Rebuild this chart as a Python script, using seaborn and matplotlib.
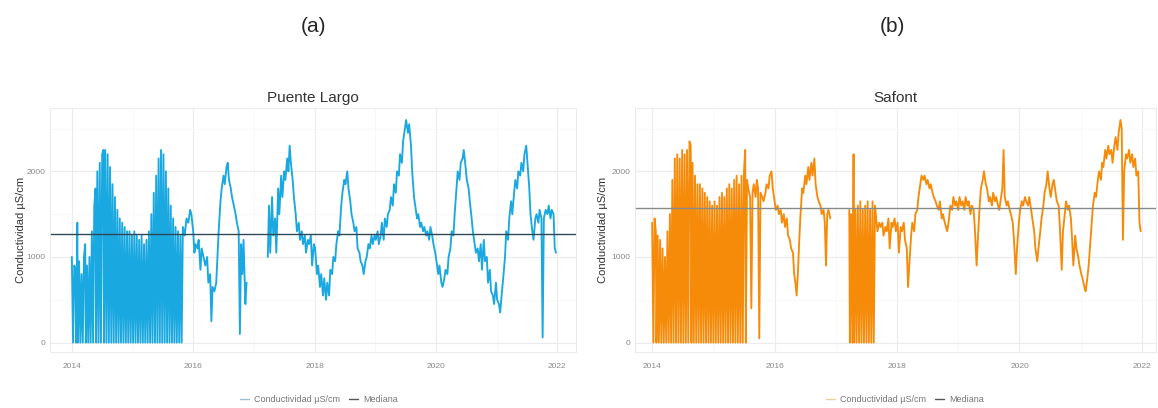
import numpy as np
import pandas as pd
import seaborn as sns
import matplotlib.pyplot as plt
from matplotlib.lines import Line2D
from matplotlib.ticker import FixedLocator

# ---- Puente Largo: año decimal y conductividad (µS/cm) ----
pl_anio = [
    2014.00, 2014.02, 2014.04, 2014.06, 2014.07, 2014.09, 2014.10, 2014.12, 2014.14, 2014.16,
    2014.18, 2014.20, 2014.22, 2014.23, 2014.25, 2014.27, 2014.29, 2014.31, 2014.33, 2014.35,
    2014.37, 2014.39, 2014.40, 2014.42, 2014.44, 2014.46, 2014.48, 2014.50, 2014.52, 2014.53,
    2014.55, 2014.57, 2014.59, 2014.61, 2014.63, 2014.65, 2014.67, 2014.69, 2014.71, 2014.73,
    2014.75, 2014.77, 2014.79, 2014.81, 2014.83, 2014.85, 2014.87, 2014.89, 2014.91, 2014.93,
    2014.95, 2014.97, 2014.99, 2015.01, 2015.03, 2015.05, 2015.07, 2015.09, 2015.11, 2015.13,
    2015.15, 2015.17, 2015.19, 2015.21, 2015.23, 2015.25, 2015.27, 2015.29, 2015.31, 2015.33,
    2015.35, 2015.37, 2015.39, 2015.41, 2015.43, 2015.45, 2015.47, 2015.49, 2015.51, 2015.53,
    2015.55, 2015.57, 2015.59, 2015.61, 2015.63, 2015.65, 2015.67, 2015.69, 2015.71, 2015.73,
    2015.75, 2015.77, 2015.79, 2015.81, 2015.83, 2015.86, 2015.89, 2015.92, 2015.95, 2015.97,
    2016.00, 2016.02, 2016.04, 2016.07, 2016.09, 2016.12, 2016.14, 2016.17, 2016.20, 2016.23,
    2016.25, 2016.28, 2016.30, 2016.32, 2016.35, 2016.38, 2016.40, 2016.42, 2016.45, 2016.47,
    2016.50, 2016.52, 2016.55, 2016.57, 2016.59, 2016.62, 2016.64, 2016.67, 2016.70, 2016.72,
    2016.75, 2016.77, 2016.79, 2016.81, 2016.83, 2016.86, 2016.88, 2017.23, 2017.25, 2017.27,
    2017.30, 2017.32, 2017.35, 2017.37, 2017.40, 2017.42, 2017.45, 2017.47, 2017.50, 2017.52,
    2017.55, 2017.57, 2017.59, 2017.61, 2017.64, 2017.66, 2017.69, 2017.71, 2017.74, 2017.76,
    2017.79, 2017.81, 2017.84, 2017.86, 2017.89, 2017.91, 2017.94, 2017.96, 2017.99, 2018.01,
    2018.04, 2018.06, 2018.09, 2018.11, 2018.14, 2018.16, 2018.19, 2018.21, 2018.24, 2018.26,
    2018.29, 2018.31, 2018.34, 2018.36, 2018.39, 2018.41, 2018.44, 2018.46, 2018.49, 2018.51,
    2018.54, 2018.56, 2018.59, 2018.61, 2018.64, 2018.66, 2018.69, 2018.71, 2018.74, 2018.76,
    2018.79, 2018.81, 2018.84, 2018.86, 2018.89, 2018.91, 2018.94, 2018.96, 2018.99, 2019.01,
    2019.04, 2019.06, 2019.09, 2019.11, 2019.14, 2019.16, 2019.19, 2019.21, 2019.24, 2019.26,
    2019.29, 2019.31, 2019.34, 2019.36, 2019.39, 2019.41, 2019.44, 2019.46, 2019.49, 2019.51,
    2019.54, 2019.56, 2019.59, 2019.61, 2019.64, 2019.66, 2019.69, 2019.71, 2019.74, 2019.76,
    2019.79, 2019.81, 2019.84, 2019.86, 2019.89, 2019.91, 2019.94, 2019.96, 2019.99, 2020.01,
    2020.04, 2020.06, 2020.09, 2020.11, 2020.14, 2020.16, 2020.19, 2020.21, 2020.24, 2020.26,
    2020.29, 2020.31, 2020.34, 2020.36, 2020.39, 2020.41, 2020.44, 2020.46, 2020.49, 2020.51,
    2020.54, 2020.56, 2020.59, 2020.61, 2020.64, 2020.66, 2020.69, 2020.71, 2020.74, 2020.76,
    2020.79, 2020.81, 2020.84, 2020.86, 2020.89, 2020.91, 2020.94, 2020.96, 2020.99, 2021.01,
    2021.04, 2021.06, 2021.09, 2021.11, 2021.14, 2021.16, 2021.19, 2021.21, 2021.24, 2021.26,
    2021.29, 2021.31, 2021.34, 2021.36, 2021.39, 2021.41, 2021.44, 2021.46, 2021.49, 2021.51,
    2021.54, 2021.56, 2021.59, 2021.61, 2021.64, 2021.66, 2021.69, 2021.71, 2021.74, 2021.76,
    2021.78, 2021.81, 2021.84, 2021.86, 2021.89, 2021.91, 2021.94, 2021.96, 2021.98,
]
pl_cond = [
    1000, 0, 900, 850, 0, 1400, 0, 950, 0, 800,
    0, 1000, 1150, 0, 900, 0, 1000, 0, 1300, 0,
    1600, 1800, 0, 2000, 0, 2100, 0, 2200, 2250, 0,
    2250, 0, 2200, 0, 2050, 0, 1850, 0, 1700, 0,
    1550, 0, 1450, 0, 1400, 0, 1350, 0, 1300, 0,
    1300, 0, 1250, 0, 1300, 0, 1250, 0, 1200, 0,
    1250, 0, 1150, 0, 1200, 0, 1300, 0, 1500, 0,
    1750, 0, 1950, 0, 2150, 0, 2250, 0, 2200, 0,
    2000, 0, 1800, 0, 1600, 0, 1450, 0, 1350, 0,
    1300, 0, 1250, 0, 1350, 1250, 1450, 1400, 1550, 1500,
    1300, 1050, 1150, 1100, 1200, 850, 1100, 1000, 900, 1000,
    700, 800, 250, 650, 600, 700, 1000, 1300, 1650, 1800,
    1950, 1850, 2050, 2100, 1900, 1800, 1700, 1600, 1500, 1400,
    1300, 100, 1150, 800, 1200, 450, 700, 1000, 1600, 1050,
    1700, 1250, 1450, 1050, 1800, 1500, 1950, 1700, 2000, 1900,
    2150, 2000, 2300, 2100, 1900, 1700, 1500, 1300, 1400, 1200,
    1300, 1150, 1250, 1050, 1200, 1150, 1250, 900, 1150, 1100,
    800, 900, 650, 800, 550, 750, 500, 700, 550, 850,
    800, 1000, 950, 1150, 1300, 1250, 1600, 1750, 1900, 1850,
    2000, 1800, 1650, 1500, 1400, 1300, 1350, 1100, 1050, 950,
    900, 800, 950, 1000, 1150, 1100, 1250, 1150, 1250, 1200,
    1300, 1150, 1250, 1400, 1200, 1450, 1350, 1500, 1550, 1700,
    1600, 1850, 1750, 2000, 1950, 2200, 2100, 2350, 2500, 2600,
    2450, 2550, 2300, 2000, 1700, 1600, 1450, 1500, 1350, 1400,
    1300, 1350, 1250, 1300, 1200, 1350, 1250, 1150, 1050, 950,
    800, 900, 700, 650, 750, 850, 800, 1000, 1100, 1300,
    1250, 1500, 1800, 2000, 1900, 2100, 2150, 2250, 2050, 1900,
    1800, 1650, 1450, 1300, 1150, 1050, 1100, 950, 1150, 850,
    1200, 950, 1000, 700, 850, 600, 550, 450, 700, 500,
    450, 350, 600, 750, 1000, 1300, 1200, 1450, 1650, 1500,
    1750, 1900, 1800, 2000, 1950, 2100, 2000, 2200, 2300, 2100,
    1800, 1500, 1300, 1200, 1450, 1500, 1400, 1550, 1450, 60,
    1450, 1550, 1500, 1600, 1450, 1550, 1500, 1100, 1050,
]

# ---- Safont ----
sf_anio = [
    2014.00, 2014.02, 2014.04, 2014.06, 2014.07, 2014.09, 2014.11, 2014.13, 2014.15, 2014.17,
    2014.19, 2014.21, 2014.23, 2014.25, 2014.27, 2014.29, 2014.31, 2014.33, 2014.35, 2014.37,
    2014.39, 2014.41, 2014.43, 2014.45, 2014.47, 2014.49, 2014.51, 2014.53, 2014.55, 2014.57,
    2014.59, 2014.61, 2014.63, 2014.64, 2014.66, 2014.68, 2014.70, 2014.72, 2014.74, 2014.76,
    2014.78, 2014.80, 2014.82, 2014.84, 2014.86, 2014.88, 2014.90, 2014.92, 2014.94, 2014.96,
    2014.98, 2015.00, 2015.02, 2015.04, 2015.06, 2015.08, 2015.10, 2015.12, 2015.14, 2015.16,
    2015.18, 2015.20, 2015.22, 2015.24, 2015.26, 2015.28, 2015.30, 2015.32, 2015.34, 2015.36,
    2015.38, 2015.40, 2015.42, 2015.44, 2015.46, 2015.48, 2015.50, 2015.52, 2015.53, 2015.55,
    2015.57, 2015.60, 2015.62, 2015.64, 2015.66, 2015.69, 2015.71, 2015.73, 2015.75, 2015.77,
    2015.80, 2015.82, 2015.85, 2015.87, 2015.90, 2015.92, 2015.95, 2015.97, 2016.00, 2016.02,
    2016.05, 2016.07, 2016.10, 2016.12, 2016.15, 2016.17, 2016.20, 2016.22, 2016.25, 2016.27,
    2016.30, 2016.32, 2016.34, 2016.36, 2016.38, 2016.40, 2016.42, 2016.45, 2016.47, 2016.50,
    2016.52, 2016.55, 2016.57, 2016.60, 2016.62, 2016.65, 2016.67, 2016.70, 2016.72, 2016.75,
    2016.77, 2016.80, 2016.82, 2016.84, 2016.86, 2016.88, 2016.91, 2017.22, 2017.23, 2017.25,
    2017.27, 2017.29, 2017.30, 2017.32, 2017.34, 2017.36, 2017.38, 2017.40, 2017.42, 2017.44,
    2017.46, 2017.48, 2017.50, 2017.52, 2017.54, 2017.56, 2017.58, 2017.60, 2017.62, 2017.64,
    2017.66, 2017.68, 2017.71, 2017.73, 2017.76, 2017.78, 2017.81, 2017.83, 2017.86, 2017.88,
    2017.91, 2017.93, 2017.96, 2017.98, 2018.01, 2018.03, 2018.06, 2018.08, 2018.11, 2018.13,
    2018.16, 2018.18, 2018.20, 2018.23, 2018.25, 2018.28, 2018.30, 2018.33, 2018.35, 2018.38,
    2018.40, 2018.43, 2018.45, 2018.48, 2018.50, 2018.53, 2018.55, 2018.58, 2018.60, 2018.63,
    2018.65, 2018.68, 2018.70, 2018.73, 2018.75, 2018.78, 2018.80, 2018.82, 2018.85, 2018.87,
    2018.90, 2018.92, 2018.95, 2018.97, 2019.00, 2019.02, 2019.05, 2019.07, 2019.10, 2019.12,
    2019.15, 2019.17, 2019.20, 2019.22, 2019.25, 2019.27, 2019.30, 2019.32, 2019.35, 2019.37,
    2019.40, 2019.42, 2019.45, 2019.47, 2019.50, 2019.52, 2019.55, 2019.57, 2019.60, 2019.62,
    2019.65, 2019.67, 2019.70, 2019.72, 2019.74, 2019.76, 2019.79, 2019.81, 2019.84, 2019.86,
    2019.89, 2019.91, 2019.94, 2019.96, 2019.99, 2020.01, 2020.04, 2020.06, 2020.09, 2020.11,
    2020.14, 2020.16, 2020.19, 2020.21, 2020.24, 2020.26, 2020.29, 2020.31, 2020.34, 2020.36,
    2020.39, 2020.41, 2020.44, 2020.46, 2020.49, 2020.51, 2020.54, 2020.56, 2020.59, 2020.61,
    2020.64, 2020.66, 2020.69, 2020.71, 2020.74, 2020.76, 2020.79, 2020.81, 2020.84, 2020.86,
    2020.88, 2020.91, 2020.93, 2020.96, 2020.98, 2021.01, 2021.03, 2021.06, 2021.08, 2021.10,
    2021.13, 2021.15, 2021.18, 2021.20, 2021.23, 2021.25, 2021.28, 2021.30, 2021.33, 2021.35,
    2021.37, 2021.40, 2021.42, 2021.45, 2021.47, 2021.50, 2021.52, 2021.55, 2021.57, 2021.60,
    2021.62, 2021.65, 2021.67, 2021.69, 2021.71, 2021.74, 2021.76, 2021.79, 2021.81, 2021.84,
    2021.86, 2021.89, 2021.91, 2021.94, 2021.96, 2021.98,
]
sf_cond = [
    1400, 0, 1450, 1300, 0, 1250, 0, 1200, 0, 1100,
    0, 1000, 0, 1300, 0, 1500, 0, 1900, 0, 2150,
    0, 2200, 0, 2150, 0, 2250, 0, 2200, 0, 2250,
    0, 2350, 2300, 0, 2100, 0, 1950, 0, 1850, 0,
    1850, 0, 1800, 0, 1750, 0, 1700, 0, 1650, 0,
    1600, 0, 1650, 0, 1600, 0, 1700, 0, 1750, 0,
    1700, 0, 1800, 0, 1850, 0, 1800, 0, 1900, 0,
    1950, 0, 1850, 0, 1950, 0, 2000, 2250, 0, 1900,
    1800, 1700, 400, 1750, 1850, 1700, 1900, 1800, 50, 1750,
    1700, 1650, 1750, 1850, 1800, 1950, 2000, 1800, 1650, 1550,
    1600, 1500, 1550, 1400, 1500, 1350, 1450, 1250, 1200, 1100,
    1050, 800, 700, 550, 800, 1150, 1450, 1800, 1750, 1950,
    1850, 2050, 1900, 2100, 1950, 2150, 1850, 1700, 1650, 1600,
    1500, 1550, 1400, 900, 1500, 1550, 1450, 1550, 0, 1500,
    0, 2200, 0, 1550, 0, 1600, 0, 1650, 0, 1550,
    0, 1600, 0, 1650, 0, 1550, 0, 1650, 0, 1600,
    1450, 1300, 1400, 1350, 1400, 1250, 1350, 1300, 1450, 1100,
    1400, 1350, 1450, 1300, 1400, 1050, 1350, 1300, 1400, 1200,
    1100, 650, 900, 1250, 1400, 1300, 1500, 1550, 1700, 1850,
    1950, 1900, 1950, 1850, 1900, 1800, 1850, 1750, 1700, 1650,
    1600, 1550, 1650, 1450, 1500, 1400, 1350, 1300, 1450, 1600,
    1550, 1700, 1600, 1650, 1550, 1700, 1600, 1650, 1550, 1700,
    1600, 1650, 1500, 1600, 1550, 1350, 900, 1200, 1600, 1800,
    1900, 2000, 1850, 1800, 1650, 1700, 1600, 1750, 1650, 1700,
    1600, 1550, 1700, 1800, 2250, 1700, 1600, 1650, 1550, 1500,
    1400, 1200, 800, 1100, 1400, 1550, 1650, 1600, 1700, 1650,
    1600, 1700, 1550, 1450, 1300, 1100, 950, 1100, 1300, 1450,
    1600, 1750, 1850, 2000, 1800, 1700, 1850, 1900, 1750, 1650,
    1600, 1350, 850, 1300, 1500, 1650, 1550, 1600, 1450, 1200,
    900, 1250, 1100, 1000, 900, 800, 750, 650, 600, 700,
    900, 1100, 1400, 1600, 1750, 1700, 1900, 2000, 1900, 2100,
    2050, 2250, 2150, 2300, 2200, 2250, 2100, 2300, 2400, 2250,
    2450, 2600, 2500, 1200, 2000, 2200, 2150, 2250, 2100, 2200,
    2050, 2150, 1950, 2000, 1400, 1300,
]

mediana_pl = 1270
mediana_sf = 1575

estaciones = ['Puente Largo', 'Safont']
paneles = ['(a)', '(b)']
anios_ticks = [2014, 2016, 2018, 2020, 2022]
cond_ticks = [0, 1000, 2000]


def to_frame(anio, cond):
    assert len(anio) == len(cond)
    df = pd.DataFrame({'anio': anio, 'cond': cond})
    # huecos largos sin datos -> tramos separados
    df['tramo'] = (df['anio'].diff() > 0.2).cumsum()
    return df


def plot_estacion(ax, df, mediana, color, color_med, titulo, xlim, ylabel_x):
    sns.lineplot(data=df, x='anio', y='cond', units='tramo', estimator=None,
                 color=color, lw=1.35, legend=False, ax=ax)
    ax.axhline(mediana, color=color_med, lw=1.0)

    ax.set_xlim(*xlim)
    ax.set_ylim(-110, 2740)
    ax.set_xticks(anios_ticks)
    ax.set_xticklabels([str(a) for a in anios_ticks])
    ax.set_yticks(cond_ticks)
    ax.set_yticklabels([str(c) for c in cond_ticks])
    ax.xaxis.set_minor_locator(FixedLocator([2013, 2015, 2017, 2019, 2021]))
    ax.yaxis.set_minor_locator(FixedLocator([500, 1500, 2500]))
    ax.grid(which='major', color='#EBEBEB', lw=0.8)
    ax.grid(which='minor', color='#F5F5F5', lw=0.5)
    ax.set_axisbelow(True)
    for s in ax.spines.values():
        s.set_color('#E8E8E8')
        s.set_linewidth(0.6)
    ax.tick_params(which='both', length=0, labelsize=6, labelcolor='#8A8A8A')
    ax.tick_params(axis='x', pad=8)
    ax.tick_params(axis='y', pad=3)

    ax.set_xlabel('')
    ax.set_ylabel('Conductividad µS/cm', fontsize=8, color='#333333')
    ax.yaxis.set_label_coords(ylabel_x, 0.5)
    ax.set_title(titulo, fontsize=11, color='#333333', pad=4)


sns.set_style('white')
plt.rcParams['font.family'] = ['Liberation Sans', 'DejaVu Sans']

fig = plt.figure(figsize=(11.58, 4.08), dpi=100)
W, H = 1158, 408
ax1 = fig.add_axes([50 / W, 1 - 352 / H, 526 / W, 244 / H])
ax2 = fig.add_axes([635 / W, 1 - 352 / H, 521 / W, 244 / H])

plot_estacion(ax1, to_frame(pl_anio, pl_cond), mediana_pl, '#1AA8E0', '#2F4858',
              estaciones[0], (2013.64, 2022.31), -24 / 526)
plot_estacion(ax2, to_frame(sf_anio, sf_cond), mediana_sf, '#F68B0A', '#858B88',
              estaciones[1], (2013.72, 2022.23), -27 / 521)

fig.text(313 / W, 1 - 27 / H, paneles[0], ha='center', va='center', fontsize=15)
fig.text(892 / W, 1 - 27 / H, paneles[1], ha='center', va='center', fontsize=15)

# leyendas bajo cada panel
for cx, c_key, m_key in [(319, '#9CC3D3', '#555555'), (905, '#E3D59A', '#555555')]:
    handles = [Line2D([], [], color=c_key, lw=1.0), Line2D([], [], color=m_key, lw=1.0)]
    fig.legend(handles, ['Conductividad µS/cm', 'Mediana'], loc='center',
               bbox_to_anchor=(cx / W, 1 - 400 / H), ncol=2, frameon=False,
               fontsize=6.5, labelcolor='#777777', handlelength=1.0,
               handletextpad=0.6, columnspacing=1.0)

fig.savefig('out.png', dpi=100, facecolor='white')
